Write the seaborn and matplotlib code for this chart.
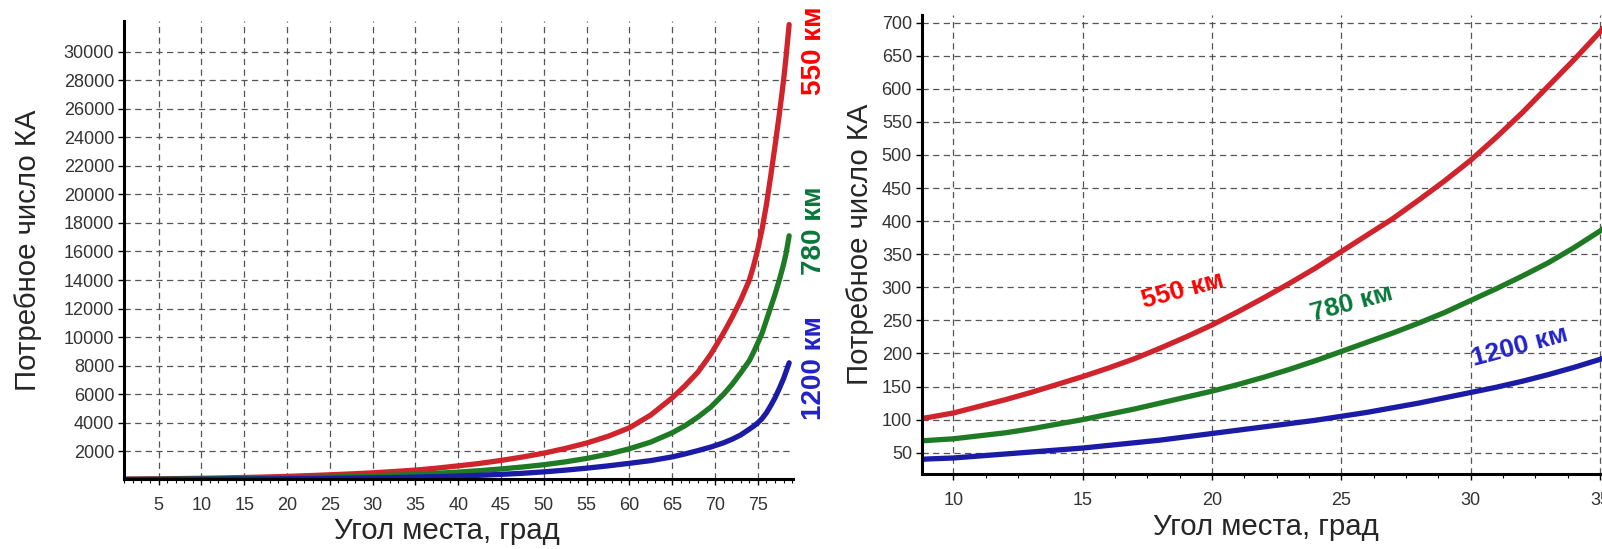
import numpy as np
import pandas as pd
import matplotlib.pyplot as plt
from matplotlib.ticker import MultipleLocator
import seaborn as sns

# угол места, град
angle = [1, 5, 8.8, 9, 10, 11, 12, 13, 14, 15, 16, 17, 18, 19, 20, 21, 22, 23, 24,
         25, 26, 27, 28, 29, 30, 31, 32, 33, 34, 35, 36, 37.5,
         40, 42.5, 45, 47.5, 50, 52.5, 55, 57.5, 60, 62.5, 65, 66.5, 68, 69.5,
         71, 72, 73, 74, 74.5, 75, 75.5, 76, 76.5, 77, 77.5, 78, 78.3, 78.65]

# потребное число КА для трёх высот орбиты
n_550 = [50, 68, 102, 103, 110, 120, 130, 141, 153, 165, 178, 192, 208, 225, 243, 263, 284, 306, 329,
         354, 379, 404, 432, 461, 492, 527, 564, 604, 644, 686, 737, 820,
         980, 1150, 1360, 1600, 1870, 2200, 2580, 3050, 3650, 4550, 5750, 6600, 7550, 8800,
         10300, 11400, 12600, 14000, 15000, 16200, 17600, 19300, 21300, 23400, 25600, 28000, 29700, 31900]
n_780 = [34, 47, 68, 68.5, 71, 75.5, 80, 86, 93, 100, 108, 116, 125, 134, 143, 153, 164, 176, 189,
         203, 217, 231, 246, 262, 280, 298, 317, 337, 360, 385, 415, 460,
         545, 645, 765, 900, 1060, 1260, 1500, 1800, 2180, 2650, 3300, 3800, 4400, 5100,
         6000, 6700, 7500, 8350, 8950, 9600, 10300, 11200, 12100, 13000, 14000, 15100, 15900, 17100]
n_1200 = [22, 30, 40, 40.5, 42, 45, 48, 51, 54, 57, 61, 65, 69, 74, 79, 84, 89, 94, 99,
          105, 111, 118, 125, 133, 141, 149, 158, 168, 179, 191, 205, 225,
          265, 320, 385, 460, 560, 680, 820, 980, 1160, 1350, 1610, 1820, 2050, 2300,
          2600, 2850, 3150, 3550, 3760, 4000, 4300, 4700, 5200, 5750, 6400, 7100, 7600, 8200]

heights = ["550 км", "780 км", "1200 км"]
line_colors = ["#d0232b", "#1f7a24", "#1b1ba6"]
text_colors = ["#ff0000", "#08773a", "#2222c8"]

df = pd.DataFrame({
    "angle": angle * 3,
    "n": n_550 + n_780 + n_1200,
    "height": np.repeat(heights, len(angle)),
})

sns.set_style("white")
plt.rcParams["font.family"] = ["Liberation Sans", "DejaVu Sans"]

W, H = 1602, 549
fig = plt.figure(figsize=(W / 100, H / 100), dpi=100)
ax1 = fig.add_axes([124 / W, 1 - 479 / H, (793 - 124) / W, (479 - 21) / H])
ax2 = fig.add_axes([921.7 / W, 1 - 474 / H, (W - 921.7) / W, (474 - 15) / H])

for ax in (ax1, ax2):
    sns.lineplot(data=df, x="angle", y="n", hue="height", palette=line_colors,
                 linewidth=3.8, estimator=None, sort=False, legend=False, ax=ax)
    ax.grid(True, which="major", color="#555555", linestyle=(0, (5, 3.5)), linewidth=0.9)
    ax.spines[["top", "right"]].set_visible(False)
    for s in ("left", "bottom"):
        ax.spines[s].set_linewidth(2.2)
        ax.spines[s].set_color("black")
    ax.tick_params(axis="both", which="major", direction="out", length=4, width=1,
                   color="black", labelsize=13, labelcolor="#333333",
                   bottom=True, left=True)
    ax.tick_params(axis="x", which="major", pad=9)
    ax.tick_params(axis="y", which="major", pad=3)
    ax.tick_params(axis="x", which="minor", direction="out", length=3, width=0.8,
                   color="black", bottom=True)

# левый график: весь диапазон углов
ax1.set_xlim(0.97, 79.1)
ax1.set_ylim(60, 32150)
ax1.set_xticks(range(5, 80, 5))
ax1.set_yticks(range(2000, 30001, 2000))
ax1.xaxis.set_minor_locator(MultipleLocator(1))
ax1.set_xlabel("Угол места, град", fontsize=21.2)
ax1.set_ylabel("Потребное число КА", fontsize=21.2)
ax1.xaxis.set_label_coords(0.483, -0.1135)
ax1.xaxis.label.set_va("center")
ax1.yaxis.set_label_coords(-0.1435, 0.5)
ax1.yaxis.label.set_va("center")

# правый график: увеличенный фрагмент
ax2.set_xlim(8.78, 35.08)
ax2.set_ylim(17.8, 711.6)
ax2.set_xticks(range(10, 36, 5))
ax2.set_yticks(range(50, 701, 50))
ax2.xaxis.set_minor_locator(MultipleLocator(1.25))
ax2.set_xlabel("Угол места, град", fontsize=21.2)
ax2.set_ylabel("Потребное число КА", fontsize=21.2)
ax2.xaxis.set_label_coords(0.5055, -0.1144)
ax2.xaxis.label.set_va("center")
ax2.yaxis.set_label_coords(-0.0907, 0.5)
ax2.yaxis.label.set_va("center")

# подписи высот
left_label_y = [1 - 51 / H, 1 - 231 / H, 1 - 368 / H]
for name, c, y in zip(heights, text_colors, left_label_y):
    fig.text(814 / W, y, name, rotation=90, color=c, fontsize=20,
             fontweight="bold", ha="center", va="center")

right_label_pos = [(18.88, 296), (25.42, 276), (31.91, 210)]
for name, c, (x, y) in zip(heights, text_colors, right_label_pos):
    ax2.text(x, y, name, rotation=15, color=c, fontsize=19, fontweight="bold",
             ha="center", va="center", rotation_mode="anchor")

fig.savefig("out.png", dpi=100)
plt.close(fig)
